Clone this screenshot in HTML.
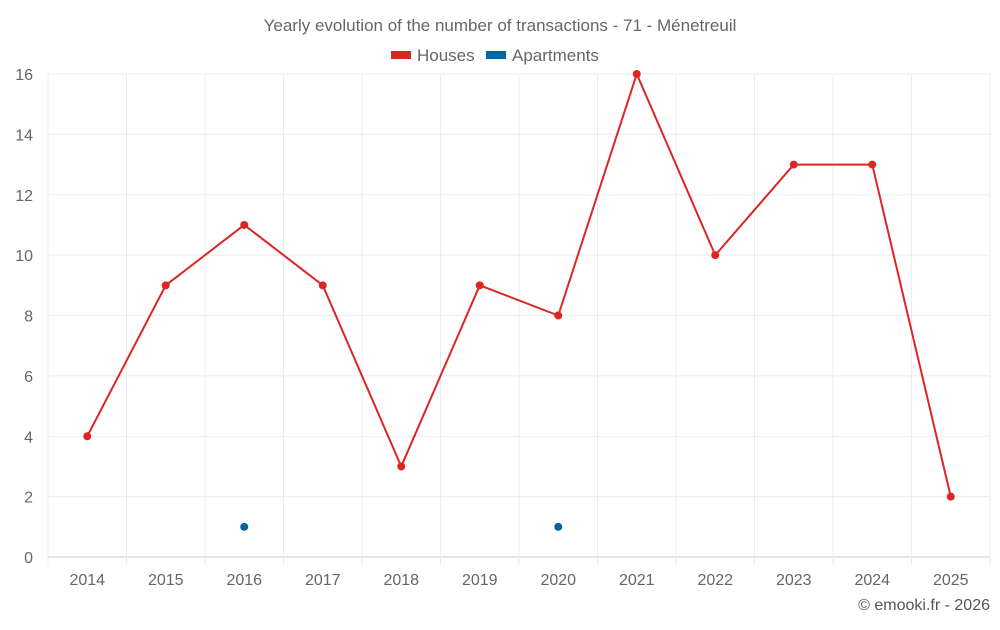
<!DOCTYPE html>
<html><head><meta charset="utf-8"><style>
body{margin:0;background:#fff;font-family:"Liberation Sans",sans-serif;}
svg text{font-family:"Liberation Sans",sans-serif;}
</style></head><body>
<svg id="c" width="1000" height="625" xmlns="http://www.w3.org/2000/svg">
<text x="500" y="31" text-anchor="middle" font-size="17" fill="#666">Yearly evolution of the number of transactions - 71 - Ménetreuil</text>
<g><rect x="391" y="51" width="20" height="8" fill="#dc2626"/><text x="417" y="61" font-size="17" fill="#666">Houses</text></g>
<g><rect x="486" y="51" width="20" height="8" fill="#0066a1"/><text x="512" y="61" font-size="17" fill="#666">Apartments</text></g>
<text x="990" y="610" text-anchor="end" font-size="16" fill="#555">© emooki.fr - 2026</text>
<g id="grid"></g><g id="axes"></g><g id="series"></g>
</svg>
<script>
const years=["2014","2015","2016","2017","2018","2019","2020","2021","2022","2023","2024","2025"];
const houses=[4,9,11,9,3,9,8,16,10,13,13,2];
const apartments=[null,null,1,null,null,null,1,null,null,null,null,null];
const yTicks=[0,2,4,6,8,10,12,14,16];
const L=48,R=990,T=74,B=557,yMax=16;
const ns="http://www.w3.org/2000/svg";
const step=(R-L)/years.length;
const xs=i=>L+step*(i+0.5);
const ys=v=>B-(v/yMax)*(B-T);
function mk(tag,attrs,parent){const e=document.createElementNS(ns,tag);for(const k in attrs)e.setAttribute(k,attrs[k]);parent.appendChild(e);return e;}
const g=document.getElementById('grid'),a=document.getElementById('axes'),s=document.getElementById('series');
yTicks.forEach(t=>{
 const l=mk('line',{x1:L,x2:R,y1:ys(t),y2:ys(t),stroke:t===0?'#ccc':'#ececec'},g);
 
 
 const tx=mk('text',{x:33,y:ys(t)+6,'text-anchor':'end','font-size':16,fill:'#666'},a);tx.textContent=t;
 
 
});
for(let i=0;i<=years.length;i++){
 const x=L+step*i;
 const l=mk('line',{x1:x,x2:x,y1:T,y2:B+8,stroke:'#ececec'},g);
 
 
}
years.forEach((y,i)=>{
 const tx=mk('text',{x:xs(i),y:585,'text-anchor':'middle','font-size':16,fill:'#666'},a);tx.textContent=y;
 
 
});
const pts=houses.map((v,i)=>xs(i)+','+ys(v)).join(' ');
const pl=mk('polyline',{points:pts,fill:'none',stroke:'#dc2626','stroke-width':2},s);


houses.forEach((v,i)=>{
 const c=mk('circle',{cx:xs(i),cy:ys(v),r:4,fill:'#dc2626'},s);
 
 
});
apartments.forEach((v,i)=>{
 if(v===null)return;
 const c=mk('circle',{cx:xs(i),cy:ys(v),r:4,fill:'#0066a1'},s);
 
 
});
</script>
</body></html>
